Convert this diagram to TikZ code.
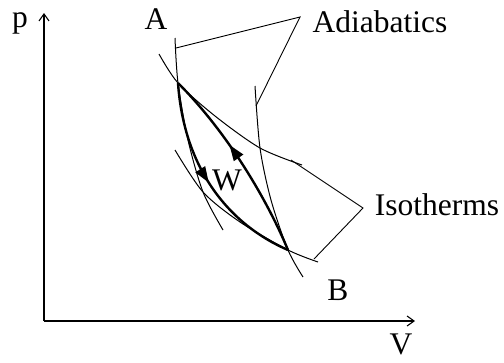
\documentclass[tikz,border=0pt]{standalone}
\usepackage{fontspec}
\setmainfont{Liberation Serif}
\usetikzlibrary{arrows.meta,decorations.markings}

\begin{document}
\begin{tikzpicture}[
    x=1pt, y=-1pt,
    lbl/.style={font=\fontsize{31.5}{36}\selectfont, anchor=base, inner sep=0pt},
    thinline/.style={line width=1pt},
    leader/.style={line width=0.9pt},
    axis/.style={line width=1.1pt, -{Straight Barb[length=7pt,width=10pt]}},
    process/.style={line width=2.4pt, postaction={decorate},
        decoration={markings, mark=at position #1 with {\arrow{Triangle[length=16pt,width=11pt]}}}}
]
\useasboundingbox (0,0) rectangle (504,362);

% axes
\coordinate (O) at (44,321);
\coordinate (pTip) at (44,13);
\coordinate (VTip) at (415,321);
\draw[axis] (O) -- (pTip);
\draw[axis] (O) -- (VTip);

% states and corners
\coordinate (A) at (178,83);
\coordinate (B) at (288,250);
\coordinate (C) at (203,192);
\coordinate (D) at (260,148);

% adiabatics
\draw[thinline] plot[smooth] coordinates {(175,38) (A) (188,140) (C) (223,230)};
\draw[thinline] plot[smooth] coordinates {(255,86) (D) (271,200) (B) (303,277)};

% isotherms
\draw[thinline] plot[smooth] coordinates {(159,54) (A) (215,116) (D) (302,165)};
\draw[thinline] plot[smooth] coordinates {(175,150) (C) (240,222) (B) (318,262)};

% the process
\draw[process=0.5] (A) .. controls (184,170) and (230,225) .. (B);
\draw[process=0.6] (B) .. controls (265,195) and (225,130) .. (A);

% labels
\node[lbl] (pLabel) at (20,27) {p};
\node[lbl] (VLabel) at (401,354) {V};
\node[lbl] (ALabel) at (156,29) {A};
\node[lbl] (BLabel) at (338,300) {B};
\node[lbl] (WLabel) at (227,190) {W};
\node[lbl] (adiLabel) at (380,32) {Adiabatics};
\node[lbl] (isoLabel) at (437,215) {Isotherms};

% leaders
\coordinate (adiApex) at (300,17);
\coordinate (adiEndA) at (176,48);
\coordinate (adiEndB) at (256,106);
\coordinate (isoApex) at (363,208);
\coordinate (isoEndA) at (291,160);
\coordinate (isoEndB) at (314,259);
\draw[leader] (adiEndA) -- (adiApex) -- (adiEndB);
\draw[leader] (isoEndA) -- (isoApex) -- (isoEndB);
\end{tikzpicture}
\end{document}
